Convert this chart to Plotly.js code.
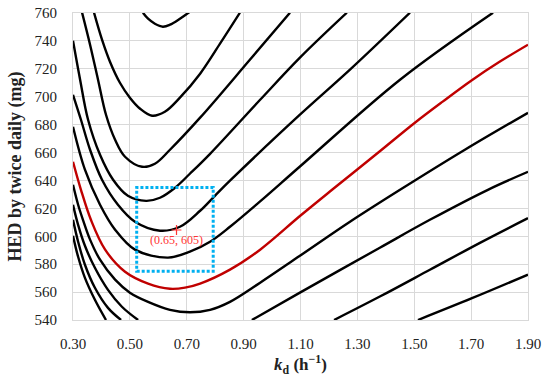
<!DOCTYPE html>
<html>
<head>
<meta charset="utf-8">
<script src="https://cdn.plot.ly/plotly-3.0.1.min.js"></script>
<style>html,body{margin:0;padding:0;background:#fff;}#chart{width:550px;height:379px;}</style>
</head>
<body>
<div id="chart"></div>
<script>
// Curve data (kd in h^-1, HED in mg)
const c1_kd  = [0.546, 0.564, 0.588, 0.616, 0.641, 0.676, 0.711];
const c1_hed = [760.2, 755.9, 752.3, 750.2, 751.6, 755.9, 760.9];

const c2_kd  = [0.374, 0.402, 0.430, 0.465, 0.500, 0.536, 0.578, 0.623, 0.676, 0.747, 0.817, 0.887];
const c2_hed = [760.2, 740.9, 725.1, 710.0, 699.3, 691.4, 686.4, 689.2, 699.3, 716.5, 738.0, 760.2];

const c3_kd  = [0.332, 0.360, 0.388, 0.416, 0.448, 0.483, 0.543, 0.588, 0.641, 0.747, 0.922, 1.063];
const c3_hed = [760.2, 737.3, 712.2, 687.1, 669.2, 657.0, 649.8, 652.0, 662.0, 685.0, 726.5, 760.2];

const c4_kd  = [0.300, 0.325, 0.353, 0.395, 0.441, 0.493, 0.557, 0.606, 0.659, 0.711, 0.782, 0.958, 1.098, 1.263];
const c4_hed = [740.1, 712.2, 683.5, 658.4, 640.5, 629.0, 625.4, 627.6, 634.8, 644.8, 659.1, 697.8, 728.0, 760.2];

const c5_kd  = [0.300, 0.328, 0.360, 0.402, 0.458, 0.518, 0.606, 0.676, 0.747, 0.799, 0.852, 1.098, 1.274, 1.485];
const c5_hed = [701.4, 683.5, 662.0, 640.5, 622.6, 610.4, 604.0, 606.8, 618.3, 629.0, 639.8, 687.1, 719.4, 760.2];

const c6_kd  = [0.300, 0.342, 0.395, 0.448, 0.518, 0.634, 0.711, 0.782, 0.852, 0.958, 1.098, 1.450, 1.777];
const c6_hed = [678.5, 647.7, 622.6, 604.7, 590.4, 584.7, 589.0, 596.1, 606.8, 625.0, 650.0, 712.2, 760.2];

const red_kd  = [0.300, 0.328, 0.363, 0.413, 0.483, 0.564, 0.641, 0.694, 0.747, 0.852, 0.958, 1.098, 1.211, 1.379, 1.500, 1.600, 1.700, 1.800, 1.900];
const red_hed = [653.4, 633.3, 611.8, 590.4, 574.6, 566.1, 562.4, 563.2, 566.1, 576.1, 590.4, 614.5, 633.3, 660.9, 681.0, 696.5, 711.5, 725.0, 737.3];

const c8_kd  = [0.300, 0.318, 0.335, 0.360, 0.395, 0.448, 0.500, 0.564, 0.641, 0.711, 0.782, 0.852, 0.958, 1.098, 1.274, 1.450, 1.678, 1.900];
const c8_hed = [636.9, 622.6, 611.8, 597.6, 583.2, 568.9, 559.6, 553.0, 547.3, 545.5, 547.3, 553.0, 566.7, 586.0, 610.4, 633.3, 662.0, 688.5];

const c9_kd  = [0.300, 0.318, 0.342, 0.377, 0.423, 0.472, 0.529, null, 0.929, 1.098, 1.379, 1.555, 1.759, 1.900];
const c9_hed = [622.6, 608.2, 593.2, 577.4, 561.6, 549.5, 540.0, null, 540.0, 559.6, 591.8, 611.8, 633.3, 646.2];

const c10_kd  = [0.300, 0.318, 0.342, 0.377, 0.423, 0.469, null, 1.218, 1.379, 1.555, 1.731, 1.900];
const c10_hed = [611.8, 596.1, 579.6, 563.1, 548.7, 540.0, null, 540.0, 556.8, 576.0, 595.3, 613.0];

const c11_kd  = [0.300, 0.318, 0.342, 0.377, 0.416, null, 1.513, 1.703, 1.900];
const c11_hed = [600.4, 585.3, 570.2, 554.5, 540.0, null, 540.0, 555.6, 572.5];

const markPoint = {kd: 0.664, hed: 604.5, label: '(0.65, 605)'};
const boxRange = {kd0: 0.524, kd1: 0.793, hed0: 575, hed1: 635};

const xTicks = [0.30, 0.50, 0.70, 0.90, 1.10, 1.30, 1.50, 1.70, 1.90];
const yTicks = [540, 560, 580, 600, 620, 640, 660, 680, 700, 720, 740, 760];

const blackCurves = [
  [c1_kd, c1_hed], [c2_kd, c2_hed], [c3_kd, c3_hed], [c4_kd, c4_hed],
  [c5_kd, c5_hed], [c6_kd, c6_hed], [c8_kd, c8_hed], [c9_kd, c9_hed],
  [c10_kd, c10_hed], [c11_kd, c11_hed]
];

const traces = blackCurves.map(([x, y]) => ({
  x: x, y: y, type: 'scatter', mode: 'lines',
  line: {color: '#000000', width: 2.4, shape: 'spline', smoothing: 1},
  connectgaps: false, hoverinfo: 'skip', showlegend: false
}));
traces.push({
  x: red_kd, y: red_hed, type: 'scatter', mode: 'lines',
  line: {color: '#C00000', width: 2.4, shape: 'spline', smoothing: 1},
  hoverinfo: 'skip', showlegend: false
});
traces.push({
  x: [markPoint.kd], y: [markPoint.hed], type: 'scatter', mode: 'markers',
  marker: {symbol: 'cross-thin', size: 7, line: {color: '#FF3333', width: 1.2}},
  hoverinfo: 'skip', showlegend: false
});

const serif = 'Liberation Serif, DejaVu Serif, serif';

const layout = {
  width: 550, height: 379,
  margin: {l: 73, r: 22, t: 13, b: 59},
  paper_bgcolor: '#ffffff', plot_bgcolor: '#ffffff',
  font: {family: serif, color: '#222222', size: 15},
  xaxis: {
    range: [0.3, 1.9], tickvals: xTicks, ticktext: xTicks.map(v => v.toFixed(2)),
    showgrid: true, gridcolor: '#d9d9d9', gridwidth: 1,
    showline: true, linecolor: '#d9d9d9', linewidth: 1, mirror: true,
    zeroline: false, ticks: '', ticklabelstandoff: 10,
    tickfont: {family: serif, size: 15, color: '#222222'},
    title: {text: '<b><i>k</i><sub>d</sub> (h<sup>−1</sup>)</b>', font: {family: serif, size: 17, color: '#222222'}, standoff: 6}
  },
  yaxis: {
    range: [540, 760], tickvals: yTicks,
    showgrid: true, gridcolor: '#d9d9d9', gridwidth: 1,
    showline: true, linecolor: '#d9d9d9', linewidth: 1, mirror: true,
    zeroline: false, ticks: '', ticklabelstandoff: 12,
    tickfont: {family: serif, size: 15, color: '#222222'},
    title: {text: '<b>HED by twice daily (mg)</b>', font: {family: serif, size: 18, color: '#222222'}, standoff: 8}
  },
  shapes: [{
    type: 'rect', xref: 'x', yref: 'y',
    x0: boxRange.kd0, x1: boxRange.kd1, y0: boxRange.hed0, y1: boxRange.hed1,
    line: {color: '#00B0F0', width: 3, dash: '3px,2px'}, fillcolor: 'rgba(0,0,0,0)', layer: 'above'
  }],
  annotations: [{
    x: markPoint.kd, y: markPoint.hed, xref: 'x', yref: 'y',
    text: markPoint.label, showarrow: false, yanchor: 'top', yshift: -1,
    font: {family: serif, size: 12, color: '#FF3333'}
  }]
};

Plotly.newPlot('chart', traces, layout, {displayModeBar: false, staticPlot: true});
</script>
</body>
</html>
